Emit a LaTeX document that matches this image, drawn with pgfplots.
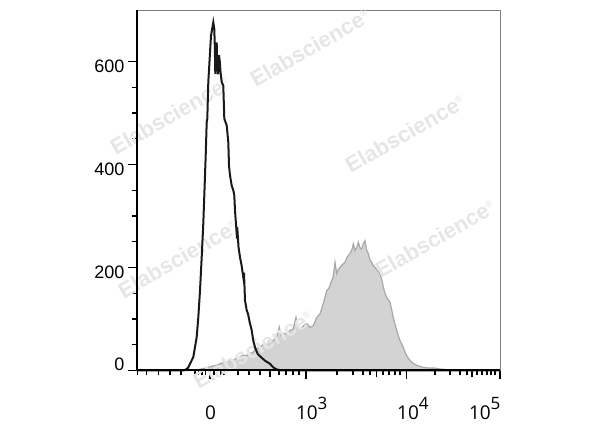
\documentclass[border=0pt]{standalone}
\usepackage{pgfplots}
\pgfplotsset{compat=1.18}
\usepackage{fontspec}
\setmainfont{Liberation Sans}
\newfontfamily\xfont{Open Sans}
\definecolor{histfill}{HTML}{D3D3D3}
\definecolor{histline}{HTML}{A8A8A8}
\definecolor{wmark}{HTML}{E6E6E6}
\begin{document}
\begin{tikzpicture}
\useasboundingbox (-137pt,-57pt) rectangle (463pt,370.5pt);
\begin{axis}[
    scale only axis,
    width=363pt, height=360.5pt,
    xmin=137, xmax=500, ymin=0, ymax=700,
    clip=false,
    axis line style={draw=gray, line width=0.8pt},
    tick align=outside,
    xtick pos=lower, ytick pos=left,
    tick style={black, line width=1.3pt},
    major tick length=9pt, minor tick length=5pt,
    xtick={210,306,406.7,500},
    xticklabels={
      \makebox[0pt][l]{\hspace*{-5pt}0},
      \makebox[0pt][l]{\hspace*{-10pt}10\raisebox{10pt}{\fontsize{17}{17}\selectfont 3}},
      \makebox[0pt][l]{\hspace*{-9.5pt}10\raisebox{10pt}{\fontsize{17}{17}\selectfont 4}},
      \makebox[0pt][l]{\hspace*{-31pt}10\raisebox{10pt}{\fontsize{17}{17}\selectfont 5}}},
    xticklabel style={font=\xfont\fontsize{19}{19}\selectfont, anchor=base, yshift=-40pt},
    minor xtick={137.3,146.7,158.3,170,181,195,198.5,202,205.5,214,217.5,221,224,
      238,249,260,279,286,293,299,337,353,363,370,383,389,395,400,
      435,450,460,467,477,482,487,491,495},
    extra x ticks={270,376.7,472},
    extra x tick labels={},
    extra x tick style={major tick length=7pt},
    ytick={0,200,400,600},
    yticklabels={\raisebox{22pt}{0},200,400,600},
    minor y tick num=3,
    yticklabel style={font=\fontsize{18}{18}\selectfont, anchor=east, yshift=-5pt},
  ]
  \addplot[fill=histfill, draw=histline, line width=1.2pt] coordinates {
    (137,0) (195,0) (196.7,1) (201,3) (206.7,5) (211,8) (216.7,10) (221,14)
    (226.7,16) (230,20) (233.3,19) (236,24) (240,26) (243,30) (246.7,29)
    (250,33) (253.3,36) (256,42) (260,45) (263,50) (266.7,52) (270,60)
    (273,58) (276.7,65) (279.3,84) (281,68) (284,72) (286.7,71) (290,78)
    (293,80) (296,103) (298,85) (301,80) (304,88) (306.7,91) (310,84)
    (313.3,87) (316.7,103) (320,110) (323.3,130) (326.7,155) (329,160)
    (331.7,175) (333,180) (335,210) (336.7,188) (338,195) (340,200)
    (342,205) (345,210) (347,220) (350,227) (352,235) (353.3,246)
    (355,233) (357,240) (358.3,249) (360,238) (361.7,236) (363,245)
    (365,252) (366.5,235) (368.3,227) (370,215) (371.7,210) (373,205)
    (375,200) (377,195) (380,188) (382,175) (383.3,162) (385,150)
    (386.7,142) (388,138) (390,133) (392,115) (393.3,103) (395,90)
    (396.7,78) (398,70) (400,58) (401.5,52) (403.3,45) (405,36)
    (406.7,29) (409,22) (411.7,16) (414,13) (416.7,10) (420,8)
    (423.3,6) (428,5) (433.3,5) (440,3) (445,2) (450,1) (455,0) (500,0)
  } \closedcycle;
  \foreach \wx/\wy in {310/627, 170/495, 405/460, 178/217, 435/256, 253/41} {
    \edef\temp{\noexpand\node[rotate=30, text=wmark,
      font=\noexpand\bfseries\noexpand\fontsize{22}{22}\noexpand\selectfont]
      at (axis cs:\wx,\wy) {Elabscience\noexpand\raisebox{8pt}{\noexpand\fontsize{9}{9}\noexpand\selectfont\noexpand\textregistered}};}
    \temp
  }
  \addplot[black!90, line width=2pt] coordinates {
    (137,0) (183,0) (185,1) (188,5) (190,13) (193.3,26) (196.7,65)
    (198.3,103) (200,155) (201.7,220) (203.3,285) (204.3,340) (205.7,417)
    (206.7,482) (207.3,489) (208.3,560) (209.5,600) (211,650) (212.3,665)
    (213.3,676) (214.3,663) (214.8,630) (215.3,576) (215.9,605) (216.7,637)
    (217.3,592) (218,575) (219,612) (219.8,600) (220.5,580) (221.7,560)
    (223.3,553) (224.3,489) (226.7,476) (228.3,443) (229,398) (230,379)
    (231.7,359) (233.3,350) (234.3,340) (235,311) (236.7,265) (237.5,270)
    (238.5,240) (240,220) (241.5,205) (243.3,181) (244,190) (245,136)
    (246.7,117) (248,110) (250,91) (251.7,78) (253.3,58) (255,45)
    (257.7,32) (261,26) (265,19) (270,13) (273.3,6) (276.7,2) (282,0) (500,0)
  };
  \draw[black, line width=1.3pt] (rel axis cs:0,0) -- (rel axis cs:0,1);
  \draw[black, line width=2pt] (rel axis cs:0,0) -- (rel axis cs:1,0);
\end{axis}
\end{tikzpicture}
\end{document}
